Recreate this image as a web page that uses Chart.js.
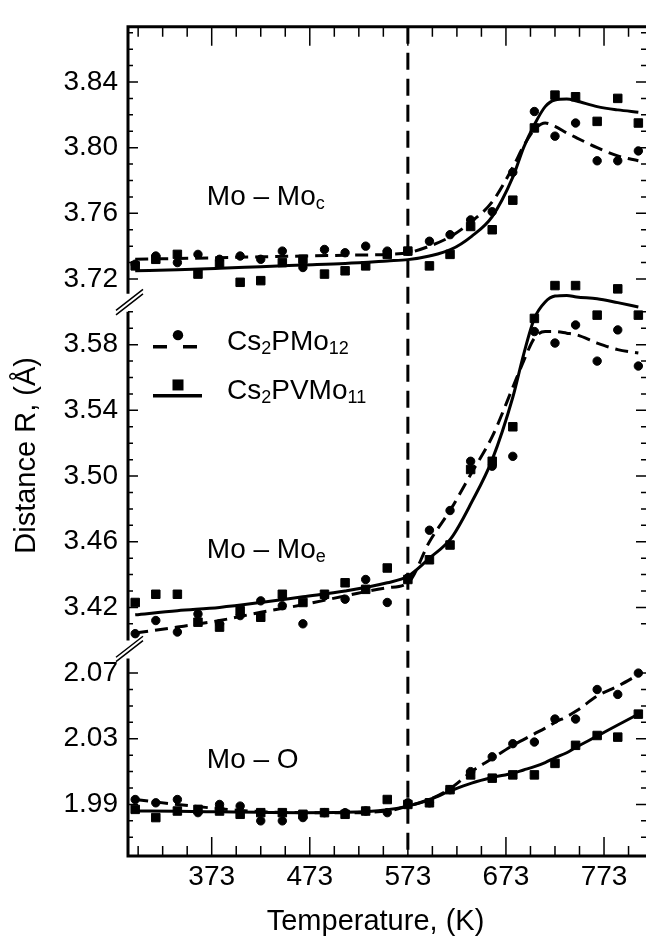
<!DOCTYPE html>
<html lang="en">
<head>
<meta charset="UTF-8">
<title>Mo–Mo and Mo–O distances vs temperature</title>
<style>
  html, body { margin: 0; padding: 0; background: #fff; overflow: hidden; }
  #wrap { width: 646px; height: 940px; position: relative; }
</style>
</head>
<body>
<div id="wrap"><canvas id="distChart"></canvas></div>
<script src="https://cdn.jsdelivr.net/npm/chart.js"></script>
<script>
// measurement temperatures (K)
const temps = [295, 316, 338, 359, 381, 402, 423, 445, 466, 488, 509, 530, 552, 573, 595, 616, 637, 659, 680, 702, 723, 744, 766, 787, 808];

// Mo - Mo (corner) distances
const moMoC_PMo12  = [3.729, 3.734, 3.730, 3.735, 3.732, 3.734, 3.732, 3.737, 3.727, 3.738, 3.736, 3.740, 3.737, 3.737, 3.743, 3.747, 3.756, 3.761, 3.785, 3.822, 3.807, 3.815, 3.792, 3.792, 3.798];
const moMoC_PVMo11 = [3.728, 3.732, 3.735, 3.723, 3.729, 3.718, 3.719, 3.730, 3.732, 3.723, 3.725, 3.728, 3.735, 3.737, 3.728, 3.735, 3.752, 3.750, 3.768, 3.812, 3.832, 3.831, 3.816, 3.830, 3.815];
// Mo - Mo (edge) distances
const moMoE_PMo12  = [3.404, 3.412, 3.405, 3.416, 3.410, 3.415, 3.424, 3.421, 3.410, 3.427, 3.425, 3.437, 3.423, 3.438, 3.467, 3.479, 3.509, 3.506, 3.512, 3.588, 3.581, 3.592, 3.570, 3.589, 3.567];
const moMoE_PVMo11 = [3.423, 3.428, 3.428, 3.411, 3.408, 3.418, 3.414, 3.428, 3.423, 3.428, 3.435, 3.431, 3.444, 3.437, 3.449, 3.458, 3.504, 3.509, 3.530, 3.596, 3.616, 3.616, 3.598, 3.614, 3.598];
// Mo - O distances
const moO_PMo12  = [1.993, 1.991, 1.993, 1.985, 1.990, 1.989, 1.980, 1.980, 1.982, 1.985, 1.985, 1.986, 1.985, 1.991, 1.991, 1.999, 2.010, 2.019, 2.027, 2.028, 2.042, 2.042, 2.060, 2.057, 2.070];
const moO_PVMo11 = [1.987, 1.982, 1.986, 1.987, 1.986, 1.984, 1.985, 1.985, 1.984, 1.985, 1.984, 1.986, 1.993, 1.990, 1.991, 1.999, 2.008, 2.006, 2.008, 2.008, 2.015, 2.026, 2.032, 2.031, 2.045];

// fitted curves, read at these temperatures
const fitTemps = [295, 338, 381, 423, 466, 509, 552, 573, 595, 617, 638, 659, 680, 691, 702, 713, 723, 735, 745, 766, 787, 808];
const fitC_PMo12  = [3.732, 3.7325, 3.733, 3.7335, 3.734, 3.7345, 3.735, 3.736, 3.740, 3.746, 3.755, 3.767, 3.788, 3.801, 3.811, 3.815, 3.813, 3.809, 3.806, 3.800, 3.795, 3.792];
const fitC_PVMo11 = [3.725, 3.7256, 3.7265, 3.7275, 3.7285, 3.7295, 3.731, 3.7318, 3.734, 3.738, 3.746, 3.758, 3.782, 3.800, 3.814, 3.825, 3.829, 3.8296, 3.8284, 3.825, 3.823, 3.8216];
const fitE_PMo12  = [3.4044, 3.408, 3.412, 3.417, 3.4216, 3.427, 3.432, 3.435, 3.460, 3.480, 3.502, 3.524, 3.554, 3.570, 3.584, 3.588, 3.588, 3.587, 3.586, 3.581, 3.577, 3.575];
const fitE_PVMo11 = [3.4155, 3.418, 3.420, 3.423, 3.4265, 3.430, 3.435, 3.439, 3.450, 3.462, 3.484, 3.510, 3.548, 3.574, 3.596, 3.606, 3.6096, 3.610, 3.609, 3.608, 3.6056, 3.603];
const fitO_PMo12  = [1.993, 1.990, 1.9874, 1.9856, 1.985, 1.985, 1.986, 1.989, 1.993, 2.000, 2.010, 2.018, 2.026, 2.0295, 2.033, 2.0365, 2.040, 2.0435, 2.047, 2.056, 2.062, 2.069];
const fitO_PVMo11 = [1.986, 1.9858, 1.9855, 1.9852, 1.985, 1.9852, 1.9868, 1.989, 1.993, 1.9984, 2.003, 2.0064, 2.009, 2.011, 2.013, 2.0155, 2.0184, 2.0215, 2.025, 2.0316, 2.0384, 2.045];

// axis labels
const xTickLabels = [373, 473, 573, 673, 773];
const yTicksC = [3.72, 3.76, 3.80, 3.84];
const yTicksE = [3.42, 3.46, 3.50, 3.54, 3.58];
const yTicksO = [1.99, 2.03, 2.07];
const transitionT = 573;

const FONT = "'Liberation Sans', Arial, Helvetica, sans-serif";
Chart.defaults.font.family = FONT;
Chart.defaults.color = '#000';

const pts = (xs, ys) => xs.map((x, i) => ({ x: x, y: ys[i] }));

function pointSet(label, values, axis, style) {
    return {
        type: 'scatter',
        label: label,
        data: pts(temps, values),
        yAxisID: axis,
        pointStyle: style,
        pointRadius: style === 'rect' ? 6 : 4.2,
        backgroundColor: '#000',
        borderColor: '#000',
        borderWidth: 1,
        showLine: false,
        clip: false
    };
}

function fitSet(values, axis, dashed) {
    return {
        type: 'line',
        data: pts(fitTemps, values),
        yAxisID: axis,
        borderColor: '#000',
        borderWidth: 3,
        borderDash: dashed ? [13, 7] : [],
        pointRadius: 0,
        cubicInterpolationMode: 'monotone',
        fill: false,
        clip: false
    };
}

function yAxis(ticksList, min, max, weight) {
    return {
        type: 'linear',
        position: 'left',
        stack: 'dist',
        stackWeight: max - min,
        weight: weight,
        min: min,
        max: max,
        afterBuildTicks: ax => { ax.ticks = ticksList.map(v => ({ value: v })); },
        grid: { display: false, drawTicks: false },
        border: { display: false },
        ticks: { padding: 10, font: { size: 28 }, callback: v => v.toFixed(2) }
    };
}

// draws text with subscripts: parts = [[text, isSub], ...]
function drawRich(ctx, parts, x, y) {
    for (const [txt, sub] of parts) {
        ctx.font = (sub ? '18px ' : '28px ') + FONT;
        ctx.fillText(txt, x, sub ? y + 4 : y);
        x += ctx.measureText(txt).width;
    }
}

const framePlugin = {
    id: 'frame',
    beforeDatasetsDraw(chart) {
        const { ctx, chartArea: a, scales } = chart;
        const px = scales.x.getPixelForValue(transitionT);
        ctx.save();
        ctx.strokeStyle = '#000';
        ctx.lineWidth = 3;
        ctx.setLineDash([17, 9]);
        ctx.beginPath();
        ctx.moveTo(px, a.top);
        ctx.lineTo(px, a.bottom);
        ctx.stroke();
        ctx.restore();
    },
    afterDraw(chart) {
        const { ctx, chartArea: a, scales } = chart;
        const x = scales.x;
        const panels = [[scales.yC, yTicksC], [scales.yE, yTicksE], [scales.yO, yTicksO]];
        const gap = 9;
        ctx.save();
        ctx.strokeStyle = '#000';
        ctx.fillStyle = '#000';

        // frame: top, bottom, broken left axis
        ctx.lineWidth = 3;
        ctx.beginPath();
        ctx.moveTo(a.left - 1.5, a.top);
        ctx.lineTo(a.right + 2, a.top);
        ctx.moveTo(a.left - 1.5, a.bottom);
        ctx.lineTo(a.right + 2, a.bottom);
        panels.forEach(([s], i) => {
            const t = i === 0 ? a.top : s.top + gap;
            const b = i === 2 ? a.bottom : s.bottom - gap;
            ctx.moveTo(a.left, t);
            ctx.lineTo(a.left, b);
            ctx.moveTo(a.right + 2, t);
            ctx.lineTo(a.right + 2, b);
        });
        ctx.stroke();

        // break marks
        ctx.lineWidth = 1.5;
        ctx.beginPath();
        [scales.yC.bottom, scales.yE.bottom].forEach(c => {
            [-2.2, 2.2].forEach(d => {
                ctx.moveTo(a.left - 12, c + 10 + d);
                ctx.lineTo(a.left + 15, c - 11 + d);
            });
        });
        ctx.stroke();

        // y tick marks, inward on both sides
        ctx.lineWidth = 1.5;
        ctx.beginPath();
        panels.forEach(([s, labels], i) => {
            const t = i === 0 ? a.top : s.top + gap - 0.5;
            const b = i === 2 ? a.bottom : s.bottom - gap + 0.5;
            for (let k = Math.ceil(s.min * 100 - 1e-6); k <= Math.floor(s.max * 100 + 1e-6); k++) {
                const v = k / 100;
                const p = s.getPixelForValue(v);
                if (p < t || p > b - 3) continue;
                const len = labels.some(l => Math.abs(l - v) < 1e-6) ? 10 : 5;
                ctx.moveTo(a.left, p);
                ctx.lineTo(a.left + len, p);
                ctx.moveTo(a.right, p);
                ctx.lineTo(a.right - len, p);
            }
        });
        // x tick marks, inward on top and bottom
        for (let v = 298; v <= x.max; v += 25) {
            const p = x.getPixelForValue(v);
            const len = xTickLabels.includes(v) ? 19 : 10;
            ctx.moveTo(p, a.bottom);
            ctx.lineTo(p, a.bottom - len);
            ctx.moveTo(p, a.top);
            ctx.lineTo(p, a.top + len);
        }
        ctx.stroke();

        // panel names
        ctx.textBaseline = 'alphabetic';
        ctx.textAlign = 'left';
        const lx = x.getPixelForValue(368);
        drawRich(ctx, [['Mo – Mo', false], ['c', true]], lx, scales.yC.getPixelForValue(3.765));
        drawRich(ctx, [['Mo – Mo', false], ['e', true]], lx, scales.yE.getPixelForValue(3.450));
        drawRich(ctx, [['Mo – O', false]], lx, scales.yO.getPixelForValue(2.0124));

        // legend
        const l0 = a.left + 25;
        const r1 = scales.yE.top + 44;
        const r2 = scales.yE.top + 93;
        ctx.lineWidth = 3.5;
        ctx.setLineDash([14, 16]);
        ctx.beginPath();
        ctx.moveTo(l0, r1);
        ctx.lineTo(l0 + 44, r1);
        ctx.stroke();
        ctx.setLineDash([]);
        ctx.beginPath();
        ctx.moveTo(l0, r2);
        ctx.lineTo(l0 + 49, r2);
        ctx.stroke();
        ctx.beginPath();
        ctx.arc(l0 + 25, r1 - 11.5, 5.2, 0, Math.PI * 2);
        ctx.fill();
        ctx.fillRect(l0 + 25 - 5.5, r2 - 10.7 - 5.5, 11, 11);
        drawRich(ctx, [['Cs', false], ['2', true], ['PMo', false], ['12', true]], l0 + 74, r1 + 3.4);
        drawRich(ctx, [['Cs', false], ['2', true], ['PVMo', false], ['11', true]], l0 + 74, r2 + 3.4);

        // axis titles
        ctx.font = '29px ' + FONT;
        ctx.textAlign = 'center';
        ctx.textBaseline = 'middle';
        ctx.fillText('Temperature, (K)', (a.left + a.right) / 2 - 11.5, a.bottom + 66);
        ctx.translate(a.left - 100.5, (a.top + a.bottom) / 2 + 14);
        ctx.rotate(-Math.PI / 2);
        ctx.fillText('Distance R, (Å)', 0, 0);
        ctx.restore();
    }
};

new Chart(document.getElementById('distChart'), {
    data: {
        datasets: [
            pointSet('Cs2PMo12', moMoC_PMo12, 'yC', 'circle'),
            pointSet('Cs2PVMo11', moMoC_PVMo11, 'yC', 'rect'),
            pointSet('Cs2PMo12', moMoE_PMo12, 'yE', 'circle'),
            pointSet('Cs2PVMo11', moMoE_PVMo11, 'yE', 'rect'),
            pointSet('Cs2PMo12', moO_PMo12, 'yO', 'circle'),
            pointSet('Cs2PVMo11', moO_PVMo11, 'yO', 'rect'),
            fitSet(fitC_PMo12, 'yC', true),
            fitSet(fitC_PVMo11, 'yC', false),
            fitSet(fitE_PMo12, 'yE', true),
            fitSet(fitE_PVMo11, 'yE', false),
            fitSet(fitO_PMo12, 'yO', true),
            fitSet(fitO_PVMo11, 'yO', false)
        ]
    },
    options: {
        responsive: true,
        maintainAspectRatio: false,
        animation: false,
        layout: { autoPadding: false, padding: { left: 53.5, top: 14, right: 0, bottom: 42 } },
        plugins: {
            legend: { display: false },
            tooltip: { enabled: false }
        },
        scales: {
            x: {
                type: 'linear',
                min: 287.65,
                max: 815.8,
                afterBuildTicks: ax => { ax.ticks = xTickLabels.map(v => ({ value: v })); },
                grid: { display: false, drawTicks: false },
                border: { display: false },
                ticks: { padding: 4.2, font: { size: 28 } }
            },
            yC: yAxis(yTicksC, 3.7056, 3.8736, 3),
            yE: yAxis(yTicksE, 3.3944, 3.6056, 2),
            yO: yAxis(yTicksO, 1.9586, 2.0844, 1)
        }
    },
    plugins: [framePlugin]
});
</script>
</body>
</html>
